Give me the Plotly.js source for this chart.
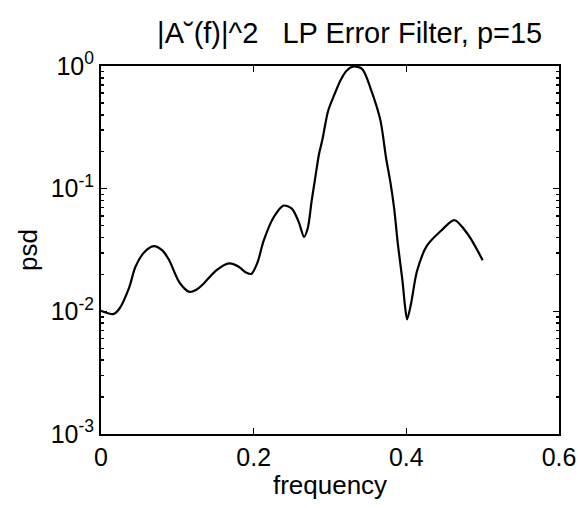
<!DOCTYPE html>
<html>
<head>
<meta charset="utf-8">
<script src="https://cdn.plot.ly/plotly-3.0.1.min.js"></script>
<style>html,body{margin:0;padding:0;background:#fff;}#chart{width:578px;height:508px;}</style>
</head>
<body>
<div id="chart"></div>
<script>
// frequency (cycles/sample)
const frequency = [0.000, 0.008, 0.016, 0.024, 0.037, 0.045, 0.057, 0.069, 0.080, 0.089,
  0.103, 0.116, 0.125, 0.134, 0.151, 0.168, 0.180, 0.190, 0.197, 0.205,
  0.213, 0.226, 0.239, 0.250, 0.259, 0.266, 0.271, 0.276, 0.280, 0.2855,
  0.290, 0.2975, 0.306, 0.314, 0.322, 0.330, 0.342, 0.354, 0.366, 0.3735,
  0.379, 0.384, 0.389, 0.395, 0.398, 0.401, 0.406, 0.414, 0.427, 0.446,
  0.463, 0.481, 0.500];
// power spectral density of the LP error filter
const psd = [0.0101, 0.0097, 0.0095, 0.0105, 0.0157, 0.0230, 0.0305, 0.0340, 0.0315, 0.0263,
  0.0171, 0.0144, 0.0150, 0.0167, 0.0216, 0.0246, 0.0232, 0.0207, 0.0202, 0.0250,
  0.0375, 0.0582, 0.0728, 0.0687, 0.0536, 0.0405, 0.0480, 0.0800, 0.1150, 0.190,
  0.250, 0.430, 0.590, 0.770, 0.920, 0.990, 0.949, 0.634, 0.362, 0.177,
  0.114, 0.0694, 0.0349, 0.0176, 0.0114, 0.0086, 0.0114, 0.0213, 0.0343, 0.0457,
  0.0554, 0.0421, 0.0261];

const xTickVals = [0, 0.2, 0.4, 0.6];
const xTickText = ['0', '0.2', '0.4', '0.6'];
const yTickVals = [0.001, 0.01, 0.1, 1];
const yTickText = ['10<sup>-3</sup>', '10<sup>-2</sup>', '10<sup>-1</sup>', '10<sup>0</sup>'];

const FONT = 'Liberation Sans, Arial, Helvetica, sans-serif';

const trace = {
  x: frequency, y: psd, type: 'scatter', mode: 'lines',
  line: {color: '#000', width: 2.2, shape: 'spline', smoothing: 0.8},
  hoverinfo: 'skip'
};

const layout = {
  width: 578, height: 508,
  margin: {l: 101, r: 19, t: 66, b: 74},
  paper_bgcolor: '#fff', plot_bgcolor: '#fff',
  showlegend: false,
  font: {family: FONT, color: '#000', size: 24},
  title: {
    text: '|A\u02d8(f)|^2   LP Error Filter, p=15',
    font: {family: FONT, size: 29, color: '#000'},
    xref: 'container', x: 0.605, xanchor: 'center',
    yref: 'container', y: 0.935, yanchor: 'middle'
  },
  xaxis: {
    range: [0, 0.6], tickvals: xTickVals, ticktext: xTickText,
    showline: true, linecolor: '#000', linewidth: 2, mirror: 'ticks',
    ticks: 'inside', ticklen: 6, tickwidth: 1.5, tickcolor: '#000',
    showgrid: false, zeroline: false,
    tickfont: {family: FONT, size: 25, color: '#000'},
    title: {text: 'frequency', font: {family: FONT, size: 26, color: '#000'}, standoff: 6}
  },
  yaxis: {
    type: 'log', range: [-3, 0], tickvals: yTickVals, ticktext: yTickText,
    showline: true, linecolor: '#000', linewidth: 2, mirror: 'ticks',
    ticks: 'inside', ticklen: 6, tickwidth: 1.5, tickcolor: '#000',
    minor: {ticks: 'inside', ticklen: 3, tickcolor: '#000', dtick: 'D1', showgrid: false},
    showgrid: false, zeroline: false,
    tickfont: {family: FONT, size: 25, color: '#000'},
    title: {text: 'psd', font: {family: FONT, size: 26, color: '#000'}, standoff: 6}
  }
};

Plotly.newPlot('chart', [trace], layout, {displayModeBar: false, staticPlot: true});
</script>
</body>
</html>
